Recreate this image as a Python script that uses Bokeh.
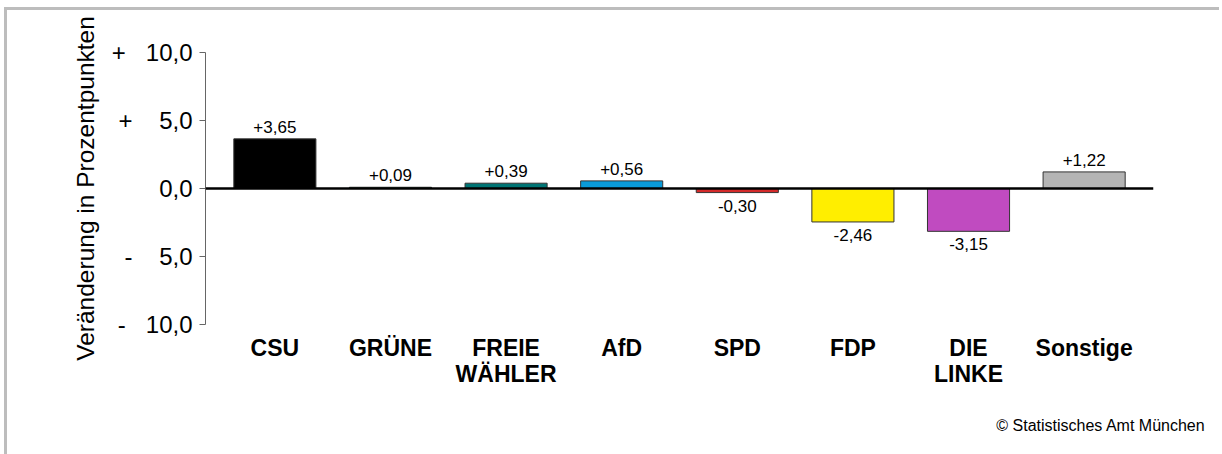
from bokeh.plotting import figure
from bokeh.models import (Range1d, FixedTicker, Span, Title, ColumnDataSource)
from bokeh.core.properties import value
from bokeh.embed import file_html
from bokeh.resources import INLINE

parties = ["CSU", "GRÜNE", "FREIE\nWÄHLER", "AfD", "SPD", "FDP", "DIE\nLINKE", "Sonstige"]
changes = [3.65, 0.09, 0.39, 0.56, -0.30, -2.46, -3.15, 1.22]
value_labels = ["+3,65", "+0,09", "+0,39", "+0,56", "-0,30", "-2,46", "-3,15", "+1,22"]
colors = ["#000000", "#1f8a3a", "#007575", "#0a9bd9", "#d42a2a", "#ffee00", "#c04bc0", "#b4b4b4"]
y_ticks = [-10, -5, 0, 5, 10]
nb = "\u00a0"
y_tick_labels = ["-" + nb * 3 + "10,0", "-" + nb * 4 + "5,0", "0,0", "+" + nb * 4 + "5,0", "+" + nb * 3 + "10,0"]

FONT = "Liberation Sans"
idx = list(range(len(parties)))

p = figure(frame_width=948, frame_height=272,
           min_border_left=198, min_border_right=69, min_border_top=42, min_border_bottom=130,
           x_range=Range1d(-0.6, len(parties) - 0.4), y_range=Range1d(-10, 10),
           output_backend="svg", toolbar_location=None, tools="")
p.styles = {"margin-left": "7px", "margin-top": "10px", "box-shadow": "-3px -3px 0px 0px #bdbdbd"}
p.outline_line_color = None
p.grid.visible = False
p.background_fill_color = "white"
p.border_fill_color = "white"

src = ColumnDataSource(dict(x=idx, top=changes, color=colors, lab=value_labels))
p.vbar(x="x", top="top", bottom=0, width=0.71, fill_color="color", line_color="#333333",
       line_width=1, source=src)

pos = ColumnDataSource(dict(x=[i for i in idx if changes[i] >= 0],
                            y=[c for c in changes if c >= 0],
                            t=[value_labels[i] for i in idx if changes[i] >= 0]))
neg = ColumnDataSource(dict(x=[i for i in idx if changes[i] < 0],
                            y=[c for c in changes if c < 0],
                            t=[value_labels[i] for i in idx if changes[i] < 0]))
p.text(x="x", y="y", text="t", source=pos, text_align="center", text_baseline="bottom",
       y_offset=-6, text_font=value(FONT), text_font_size="17px", text_color="black")
p.text(x="x", y="y", text="t", source=neg, text_align="center", text_baseline="top",
       y_offset=7, text_font=value(FONT), text_font_size="17px", text_color="black")

p.add_layout(Span(location=0, dimension="width", line_color="black", line_width=2.5))

# y axis
ya = p.yaxis[0]
ya.ticker = FixedTicker(ticks=y_ticks)
ya.major_label_overrides = {t: l for t, l in zip(y_ticks, y_tick_labels)}
ya.major_label_text_font = FONT
ya.major_label_text_font_size = "24px"
ya.major_label_text_color = "black"
ya.major_label_standoff = 7
ya.major_tick_out = 6
ya.major_tick_in = 0
ya.minor_tick_line_color = None
ya.axis_line_color = "#666666"
ya.major_tick_line_color = "#666666"
ya.axis_label = "Veränderung in Prozentpunkten"
ya.axis_label_text_font = FONT
ya.axis_label_text_font_size = "24.5px"
ya.axis_label_text_font_style = "normal"
ya.axis_label_text_color = "black"
ya.axis_label_standoff = 10

# x axis
xa = p.xaxis[0]
xa.ticker = FixedTicker(ticks=idx)
xa.major_label_overrides = {i: n for i, n in zip(idx, parties)}
xa.major_label_text_font = FONT
xa.major_label_text_font_size = "23px"
xa.major_label_text_font_style = "bold"
xa.major_label_text_color = "black"
xa.major_label_text_line_height = 1.0
xa.major_label_standoff = 10
xa.major_tick_out = 0
xa.major_tick_in = 0
xa.minor_tick_line_color = None
xa.major_tick_line_color = None
xa.axis_line_color = None

# copyright
p.add_layout(Title(text="© Statistisches Amt München", align="right", offset=-52, standoff=50,
                   text_font=FONT, text_font_size="16px", text_font_style="normal",
                   text_color="black"), "below")

open("out.html", "w").write(file_html(p, INLINE))
